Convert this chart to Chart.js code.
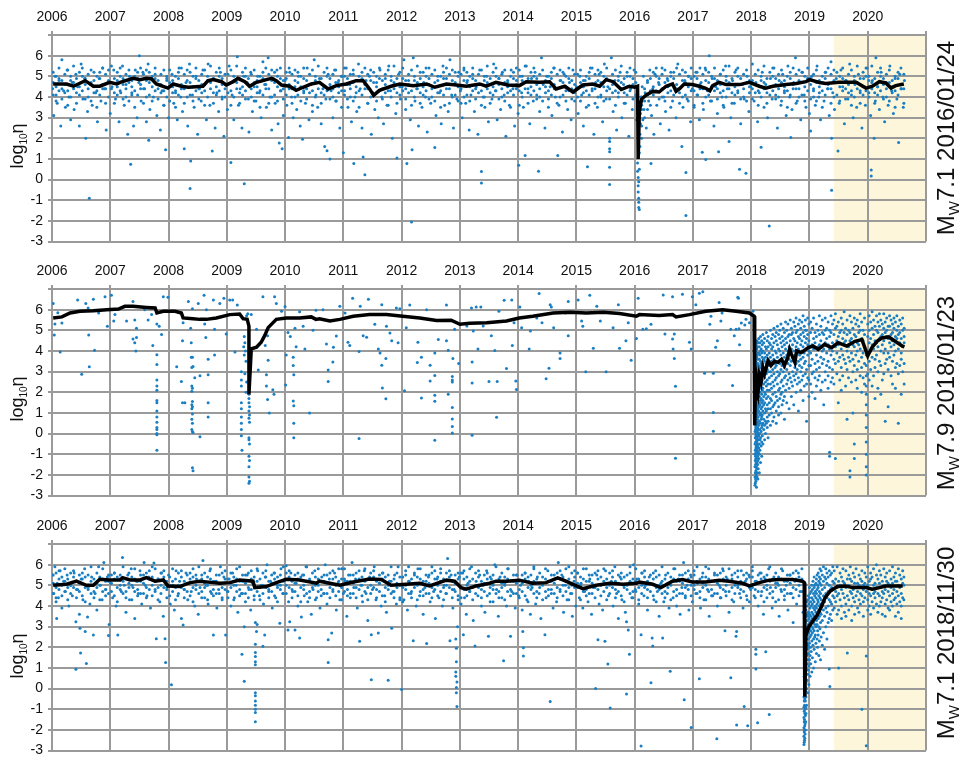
<!DOCTYPE html>
<html>
<head>
<meta charset="utf-8">
<script src="https://cdn.jsdelivr.net/npm/chart.js@4.4.0/dist/chart.umd.min.js"></script>
<style>
  body { margin: 0; background: #fff; width: 961px; height: 761px; overflow: hidden; position: relative;
         font-family: 'Liberation Sans', Arial, sans-serif; color: #111; }
  canvas { position: absolute; left: 0; }
  .ytitle { position: absolute; transform: translate(-50%, -50%) rotate(-90deg); font-size: 18px; white-space: nowrap; }
  .quake { position: absolute; transform: translate(-50%, -50%) rotate(-90deg); font-size: 24px; white-space: nowrap; }
  .ytitle sub { font-size: 10px; }
  .quake sub { font-size: 15px; }
</style>
</head>
<body>
<canvas id="panel0" width="961" height="255" style="top:0px"></canvas>
<canvas id="panel1" width="961" height="255" style="top:254px"></canvas>
<canvas id="panel2" width="961" height="255" style="top:509px"></canvas>

<div class="ytitle" style="left:18px;top:146px">log<sub>10</sub>η</div>
<div class="ytitle" style="left:18px;top:399px">log<sub>10</sub>η</div>
<div class="ytitle" style="left:18px;top:656px">log<sub>10</sub>η</div>
<div class="quake" id="q0" style="left:947px;top:138px"></div>
<div class="quake" id="q1" style="left:947px;top:393px"></div>
<div class="quake" id="q2" style="left:947px;top:643px"></div>

<script>
// --- axes ---
const yearTicks = [2006, 2007, 2008, 2009, 2010, 2011, 2012, 2013, 2014, 2015, 2016, 2017, 2018, 2019, 2020, 2021];
const etaTicks = [-3, -2, -1, 0, 1, 2, 3, 4, 5, 6, 7];
const shadeStart = 2019.42;

// --- quakes (one per panel) ---
const quakeMags = ['7.1', '7.9', '7.1'];
const quakeDates = ['2016/01/24', '2018/01/23', '2018/11/30'];

// --- panel 1 : Mw7.1 2016/01/24 ---
const lineA = [
  [2006.02,4.63],[2006.25,4.63],[2006.37,4.52],[2006.57,4.79],[2006.71,4.52],[2006.82,4.52],[2006.99,4.71],
  [2007.11,4.63],[2007.17,4.71],[2007.39,4.9],[2007.51,4.84],[2007.62,4.9],[2007.71,4.87],[2007.79,4.63],
  [2007.99,4.43],[2008.08,4.63],[2008.22,4.52],[2008.34,4.47],[2008.59,4.52],[2008.68,4.79],[2008.77,4.84],
  [2008.91,4.74],[2008.99,4.58],[2009.11,4.74],[2009.19,4.9],[2009.31,4.74],[2009.39,4.52],[2009.51,4.71],
  [2009.68,4.84],[2009.77,4.9],[2009.85,4.79],[2009.94,4.58],[2010.08,4.52],[2010.19,4.32],[2010.31,4.47],
  [2010.45,4.63],[2010.59,4.71],[2010.74,4.39],[2010.88,4.55],[2011.05,4.63],[2011.22,4.79],[2011.34,4.79],
  [2011.45,4.39],[2011.52,4.08],[2011.62,4.32],[2011.82,4.52],[2011.97,4.63],[2012.2,4.55],[2012.43,4.63],
  [2012.57,4.47],[2012.77,4.63],[2012.94,4.58],[2013.11,4.52],[2013.34,4.63],[2013.45,4.52],[2013.62,4.71],
  [2013.82,4.58],[2014.02,4.55],[2014.14,4.74],[2014.37,4.71],[2014.54,4.74],[2014.65,4.39],[2014.8,4.52],
  [2014.94,4.24],[2015.11,4.58],[2015.28,4.63],[2015.4,4.52],[2015.51,4.84],[2015.63,4.74],[2015.77,4.36],
  [2015.91,4.52],[2016.0,4.47],[2016.05,4.52],[2016.06,1.0],[2016.08,3.3],[2016.12,3.9],[2016.2,4.1],
  [2016.31,4.27],[2016.42,4.24],[2016.54,4.52],[2016.65,4.63],[2016.71,4.27],[2016.77,4.4],[2016.85,4.63],
  [2016.99,4.6],[2017.11,4.52],[2017.22,4.42],[2017.29,4.3],[2017.34,4.55],[2017.45,4.71],[2017.57,4.6],
  [2017.8,4.6],[2017.97,4.71],[2018.14,4.52],[2018.25,4.43],[2018.37,4.52],[2018.6,4.6],[2018.77,4.65],
  [2018.94,4.74],[2019.0,4.84],[2019.17,4.7],[2019.28,4.65],[2019.51,4.71],[2019.8,4.71],[2019.97,4.43],
  [2020.08,4.52],[2020.2,4.74],[2020.31,4.68],[2020.4,4.43],[2020.48,4.55],[2020.62,4.63]
];
const ptsA = [
  [2006.01,4.4],[2006.03,3.1],[2006.05,5.0],[2006.07,4.1],[2006.09,3.7],[2006.12,4.8],[2006.15,2.6],[2006.17,5.8],
  [2006.2,4.3],[2006.23,3.5],[2006.26,5.3],[2006.29,4.0],[2006.32,2.9],[2006.35,4.7],[2006.38,3.4],[2006.41,5.1],
  [2006.44,4.5],[2006.47,2.6],[2006.5,5.6],[2006.53,3.9],[2006.56,4.9],[2006.58,2.0],[2006.61,3.3],[2006.64,-0.9],
  [2006.66,4.6],[2006.69,3.6],[2006.72,5.2],[2006.75,4.2],[2006.78,2.8],[2006.81,4.9],[2006.84,3.8],[2006.87,5.4],
  [2006.9,4.4],[2006.93,2.4],[2006.96,4.7],
  [2007.0,3.2],[2007.03,4.5],[2007.06,5.3],[2007.09,3.9],[2007.12,4.8],[2007.15,2.8],[2007.18,4.2],[2007.21,5.5],
  [2007.24,3.6],[2007.27,4.6],[2007.3,2.2],[2007.33,5.0],[2007.35,0.75],[2007.37,4.1],[2007.4,2.6],[2007.43,5.3],
  [2007.46,3.0],[2007.49,4.7],[2007.5,6.0],[2007.53,3.8],[2007.56,5.2],[2007.59,4.4],[2007.62,2.8],[2007.65,5.6],
  [2007.66,1.9],[2007.68,3.4],[2007.71,4.9],[2007.74,4.0],[2007.77,5.1],[2007.8,3.1],[2007.83,4.6],[2007.86,2.4],
  [2007.89,4.3],[2007.92,3.6],[2007.95,1.45],[2007.97,4.9],
  [2008.0,3.0],[2008.03,4.5],[2008.06,5.1],[2008.09,3.7],[2008.12,4.2],[2008.15,2.9],[2008.18,5.4],[2008.21,4.0],
  [2008.24,3.3],[2008.27,1.5],[2008.3,4.7],[2008.33,2.6],[2008.36,5.6],[2008.37,-0.43],[2008.38,0.9],[2008.41,4.1],
  [2008.44,3.5],[2008.47,5.0],[2008.5,2.2],[2008.53,4.4],[2008.56,3.8],[2008.59,5.3],[2008.62,4.6],[2008.65,2.9],
  [2008.68,5.6],[2008.71,3.6],[2008.75,1.38],[2008.77,4.9],[2008.8,2.5],[2008.83,4.2],[2008.86,3.3],[2008.89,5.2],
  [2008.92,4.0],[2008.95,2.1],[2008.98,4.6],
  [2009.01,3.4],[2009.04,5.5],[2009.07,0.83],[2009.09,4.1],[2009.12,2.9],[2009.15,4.8],[2009.18,5.95],[2009.2,3.6],
  [2009.23,4.4],[2009.26,2.5],[2009.29,5.0],[2009.3,-0.2],[2009.32,3.9],[2009.35,4.7],[2009.38,2.3],[2009.41,5.2],
  [2009.44,3.3],[2009.47,4.5],[2009.5,3.8],[2009.53,5.0],[2009.56,4.2],[2009.59,3.0],[2009.62,5.7],[2009.65,4.6],
  [2009.68,3.5],[2009.71,5.9],[2009.74,4.0],[2009.77,2.4],[2009.8,4.9],[2009.83,3.7],[2009.86,5.3],[2009.88,2.7],
  [2009.9,1.77],[2009.93,4.3],[2009.95,1.49],[2009.97,3.1],
  [2010.0,4.8],[2010.03,3.6],[2010.06,2.04],[2010.08,5.2],[2010.11,4.0],[2010.14,3.0],[2010.17,4.5],[2010.2,3.4],
  [2010.23,5.0],[2010.26,2.6],[2010.3,1.96],[2010.32,4.2],[2010.35,3.7],[2010.38,5.4],[2010.41,2.9],[2010.44,4.6],
  [2010.47,3.3],[2010.5,5.8],[2010.53,4.1],[2010.56,3.5],[2010.59,4.9],[2010.62,2.7],[2010.65,4.4],[2010.68,1.6],
  [2010.7,3.9],[2010.72,1.4],[2010.74,5.1],[2010.77,1.0],[2010.79,4.3],[2010.82,3.0],[2010.85,5.3],[2010.88,3.8],
  [2010.91,4.7],[2010.94,2.5],[2010.97,5.0],
  [2011.0,1.3],[2011.02,4.1],[2011.05,5.4],[2011.08,3.5],[2011.11,4.6],[2011.14,2.8],[2011.17,5.1],[2011.18,0.78],
  [2011.2,4.0],[2011.23,3.3],[2011.26,5.6],[2011.29,4.4],[2011.32,2.5],[2011.34,1.1],[2011.37,0.23],[2011.39,4.8],
  [2011.42,3.7],[2011.45,5.0],[2011.48,2.2],[2011.51,4.2],[2011.54,3.4],[2011.57,4.7],[2011.6,3.0],[2011.63,5.3],
  [2011.66,4.0],[2011.69,2.7],[2011.72,4.9],[2011.75,3.6],[2011.78,5.5],[2011.81,4.3],[2011.84,2.0],[2011.87,4.6],
  [2011.9,3.2],[2011.92,1.05],[2011.95,5.1],[2011.98,3.9],
  [2012.01,4.5],[2012.04,5.8],[2012.07,3.4],[2012.09,0.78],[2012.12,4.8],[2012.15,2.9],[2012.17,-2.05],[2012.18,1.45],
  [2012.2,5.9],[2012.23,3.8],[2012.26,4.4],[2012.29,2.6],[2012.32,5.2],[2012.35,3.5],[2012.38,4.7],[2012.41,4.0],
  [2012.44,2.3],[2012.47,5.4],[2012.5,3.7],[2012.53,4.5],[2012.57,1.55],[2012.59,3.1],[2012.62,5.0],[2012.65,4.2],
  [2012.68,2.7],[2012.71,5.5],[2012.74,3.6],[2012.77,4.9],[2012.8,3.3],[2012.83,5.8],[2012.86,4.1],[2012.89,2.5],
  [2012.92,4.6],[2012.95,3.9],[2012.98,5.2],
  [2013.01,4.3],[2013.04,3.0],[2013.07,5.4],[2013.1,3.7],[2013.13,4.8],[2013.16,2.4],[2013.19,4.1],[2013.22,5.1],
  [2013.25,3.3],[2013.28,4.5],[2013.31,2.2],[2013.34,5.3],[2013.37,0.39],[2013.37,-0.16],[2013.4,4.0],[2013.43,3.5],
  [2013.46,5.0],[2013.49,2.8],[2013.52,4.6],[2013.55,3.9],[2013.58,5.6],[2013.61,4.3],[2013.64,2.9],[2013.67,4.9],
  [2013.7,3.4],[2013.73,5.2],[2013.76,4.1],[2013.79,2.1],[2013.82,4.7],[2013.85,3.6],[2013.88,5.3],[2013.91,4.4],
  [2013.94,2.6],[2013.97,4.8],
  [2014.0,3.2],[2014.01,0.7],[2014.03,5.0],[2014.06,4.2],[2014.09,3.5],[2014.12,1.17],[2014.14,5.5],[2014.17,4.4],
  [2014.2,2.7],[2014.23,4.9],[2014.26,3.8],[2014.29,5.2],[2014.32,4.1],[2014.35,0.4],[2014.37,3.3],[2014.4,5.9],
  [2014.43,4.6],[2014.46,2.5],[2014.49,5.0],[2014.52,3.9],[2014.55,4.5],[2014.58,3.1],[2014.61,5.4],[2014.64,4.0],
  [2014.68,1.17],[2014.7,3.6],[2014.73,4.8],[2014.76,2.3],[2014.79,5.1],[2014.82,4.3],[2014.85,3.4],[2014.88,4.7],
  [2014.91,2.9],[2014.94,5.3],[2014.97,3.8],
  [2015.0,4.5],[2015.03,3.2],[2015.06,5.0],[2015.09,4.1],[2015.12,2.6],[2015.15,4.8],[2015.19,0.62],[2015.21,3.6],
  [2015.24,5.4],[2015.27,4.3],[2015.3,2.2],[2015.33,4.7],[2015.36,3.5],[2015.39,5.1],[2015.42,4.0],[2015.45,2.8],
  [2015.48,5.6],[2015.51,3.9],[2015.54,4.5],[2015.57,2.0],[2015.57,1.85],[2015.57,1.5],[2015.57,1.35],[2015.57,0.6],
  [2015.57,-0.24],[2015.6,5.9],[2015.63,3.3],[2015.66,4.8],[2015.69,2.4],[2015.72,4.2],[2015.75,5.2],[2015.78,3.0],
  [2015.81,4.6],[2015.84,3.7],[2015.87,5.0],[2015.9,2.1],[2015.93,4.4],[2015.96,3.4],[2015.99,5.3],[2016.02,4.0],
  [2016.03,2.9],
  [2016.05,0.8],[2016.05,0.4],[2016.06,0.1],[2016.06,-0.3],[2016.06,-0.6],[2016.07,-0.9],[2016.07,-1.1],[2016.07,-1.35],
  [2016.08,-1.45],[2016.08,1.3],[2016.08,0.5],[2016.07,-0.1],[2016.09,2.2],[2016.09,1.6],[2016.1,2.7],[2016.1,3.2],
  [2016.11,4.0],[2016.12,2.0],[2016.12,3.6],[2016.13,4.5],[2016.14,2.9],[2016.15,5.0],[2016.16,3.4],[2016.18,4.2],
  [2016.2,2.5],[2016.22,4.8],[2016.24,3.8],[2016.26,5.3],[2016.28,0.78],[2016.29,3.1],[2016.31,4.4],[2016.33,2.2],
  [2016.35,5.1],[2016.38,3.6],[2016.41,4.7],[2016.44,2.7],[2016.47,5.4],[2016.5,4.0],[2016.53,3.3],[2016.56,4.9],
  [2016.59,2.4],[2016.62,5.2],[2016.65,3.8],[2016.68,4.5],[2016.71,3.0],[2016.74,5.6],[2016.77,4.2],[2016.81,1.6],
  [2016.83,3.5],[2016.86,4.8],[2016.88,0.35],[2016.88,-1.74],[2016.9,3.9],[2016.93,5.0],[2016.96,2.8],[2016.99,4.4],
  [2017.02,3.6],[2017.05,5.2],[2017.08,4.1],[2017.11,2.9],[2017.14,4.7],[2017.16,1.33],[2017.18,3.4],[2017.21,5.4],
  [2017.22,0.97],[2017.25,4.3],[2017.28,6.0],[2017.3,3.8],[2017.33,4.9],[2017.36,2.6],[2017.39,4.5],[2017.42,3.2],
  [2017.44,1.35],[2017.47,5.1],[2017.5,4.0],[2017.53,3.5],[2017.56,5.5],[2017.59,4.4],[2017.62,1.85],[2017.65,3.0],
  [2017.68,4.8],[2017.71,3.7],[2017.74,5.3],[2017.77,4.2],[2017.8,0.5],[2017.82,2.7],[2017.85,4.6],[2017.88,3.9],
  [2017.91,0.31],[2017.93,5.0],[2017.96,3.3],[2017.99,4.5],
  [2018.02,5.6],[2018.05,3.8],[2018.08,4.7],[2018.11,2.8],[2018.14,4.2],[2018.17,1.57],[2018.19,5.2],[2018.22,3.5],
  [2018.25,4.6],[2018.28,3.0],[2018.31,-2.24],[2018.33,4.9],[2018.36,3.9],[2018.39,5.4],[2018.42,4.1],[2018.45,2.5],
  [2018.48,4.8],[2018.51,3.6],[2018.54,5.1],[2018.57,4.3],[2018.6,3.1],[2018.63,5.5],[2018.66,4.0],[2018.68,2.04],
  [2018.7,3.4],[2018.73,4.7],[2018.76,5.9],[2018.79,3.8],[2018.82,4.4],[2018.85,2.9],[2018.88,5.2],[2018.91,4.1],
  [2018.94,3.5],[2018.97,4.9],
  [2019.0,3.2],[2019.02,2.35],[2019.04,5.0],[2019.07,4.3],[2019.1,3.6],[2019.13,5.5],[2019.16,4.0],[2019.19,2.9],
  [2019.22,4.7],[2019.25,3.8],[2019.28,5.2],[2019.31,4.4],[2019.34,3.1],[2019.37,5.7],[2019.38,-0.51],[2019.38,2.0],
  [2019.4,4.2],[2019.43,3.4],[2019.46,4.9],[2019.49,1.38],[2019.51,3.7],[2019.54,5.3],[2019.57,4.5],[2019.6,2.7],
  [2019.63,4.8],[2019.66,3.9],[2019.69,5.6],[2019.72,4.1],[2019.75,3.0],[2019.78,4.6],[2019.81,3.5],[2019.84,5.1],
  [2019.87,4.3],[2019.9,2.5],[2019.93,4.9],[2019.96,3.6],[2019.99,5.4],
  [2020.02,4.2],[2020.05,3.1],[2020.06,0.47],[2020.06,0.18],[2020.08,4.8],[2020.11,2.0],[2020.13,3.8],[2020.14,5.9],
  [2020.17,4.5],[2020.2,3.4],[2020.23,5.2],[2020.26,4.0],[2020.29,2.8],[2020.32,4.7],[2020.35,3.6],[2020.38,5.5],
  [2020.41,4.3],[2020.44,3.2],[2020.47,4.9],[2020.5,3.9],[2020.53,1.8],[2020.55,5.1],[2020.58,4.4],[2020.61,3.5],
  [2020.63,4.8]
];
// dense core of the cloud: [time, [values...]]
const bandA = [
  [2006.02,[4.1,4.7,5.2]],[2006.07,[3.8,4.5,5.0]],[2006.12,[4.3,4.9,5.4]],[2006.17,[3.9,4.4,4.8]],[2006.22,[4.2,4.6,5.1]],
  [2006.27,[3.6,4.3,5.3]],[2006.32,[4.0,4.8,5.0]],[2006.37,[4.4,4.7,5.5]],[2006.42,[3.7,4.2,4.9]],[2006.47,[4.1,4.5,5.2]],
  [2006.52,[4.3,5.0,5.4]],[2006.57,[3.9,4.6,4.9]],[2006.62,[4.0,4.4,5.1]],[2006.67,[3.8,4.7,5.3]],[2006.72,[4.2,4.5,4.8]],
  [2006.77,[3.5,4.3,5.0]],[2006.82,[4.1,4.9,5.2]],[2006.87,[4.4,4.6,5.4]],[2006.92,[3.7,4.4,5.1]],[2006.97,[4.0,4.8,5.3]],
  [2007.02,[4.4,4.7,5.5]],[2007.07,[3.7,4.2,4.9]],[2007.12,[4.1,4.5,5.2]],[2007.17,[4.3,5.0,5.4]],[2007.22,[3.9,4.6,4.9]],
  [2007.27,[4.0,4.4,5.1]],[2007.32,[3.8,4.7,5.3]],[2007.37,[4.2,4.5,4.8]],[2007.42,[3.5,4.3,5.0]],[2007.47,[4.1,4.9,5.2]],
  [2007.52,[4.4,4.6,5.4]],[2007.57,[3.7,4.4,5.1]],[2007.62,[4.0,4.8,5.3]],[2007.67,[4.1,4.7,5.2]],[2007.72,[3.8,4.5,5.0]],
  [2007.77,[4.3,4.9,5.4]],[2007.82,[3.9,4.4,4.8]],[2007.87,[4.2,4.6,5.1]],[2007.92,[3.6,4.3,5.3]],[2007.97,[4.0,4.8,5.0]],
  [2008.02,[3.8,4.7,5.3]],[2008.07,[4.2,4.5,4.8]],[2008.12,[3.5,4.3,5.0]],[2008.17,[4.1,4.9,5.2]],[2008.22,[4.4,4.6,5.4]],
  [2008.27,[3.7,4.4,5.1]],[2008.32,[4.0,4.8,5.3]],[2008.37,[4.1,4.7,5.2]],[2008.42,[3.8,4.5,5.0]],[2008.47,[4.3,4.9,5.4]],
  [2008.52,[3.9,4.4,4.8]],[2008.57,[4.2,4.6,5.1]],[2008.62,[3.6,4.3,5.3]],[2008.67,[4.0,4.8,5.0]],[2008.72,[4.4,4.7,5.5]],
  [2008.77,[3.7,4.2,4.9]],[2008.82,[4.1,4.5,5.2]],[2008.87,[4.3,5.0,5.4]],[2008.92,[3.9,4.6,4.9]],[2008.97,[4.0,4.4,5.1]],
  [2009.02,[4.2,4.6,5.1]],[2009.07,[3.6,4.3,5.3]],[2009.12,[4.0,4.8,5.0]],[2009.17,[4.4,4.7,5.5]],[2009.22,[3.7,4.2,4.9]],
  [2009.27,[4.1,4.5,5.2]],[2009.32,[4.3,5.0,5.4]],[2009.37,[3.9,4.6,4.9]],[2009.42,[4.0,4.4,5.1]],[2009.47,[3.8,4.7,5.3]],
  [2009.52,[4.2,4.5,4.8]],[2009.57,[3.5,4.3,5.0]],[2009.62,[4.1,4.9,5.2]],[2009.67,[4.4,4.6,5.4]],[2009.72,[3.7,4.4,5.1]],
  [2009.77,[4.0,4.8,5.3]],[2009.82,[4.1,4.7,5.2]],[2009.87,[3.8,4.5,5.0]],[2009.92,[4.3,4.9,5.4]],[2009.97,[3.9,4.4,4.8]],
  [2010.02,[4.1,4.9,5.2]],[2010.07,[4.4,4.6,5.4]],[2010.12,[3.7,4.4,5.1]],[2010.17,[4.0,4.8,5.3]],[2010.22,[4.1,4.7,5.2]],
  [2010.27,[3.8,4.5,5.0]],[2010.32,[4.3,4.9,5.4]],[2010.37,[3.9,4.4,4.8]],[2010.42,[4.2,4.6,5.1]],[2010.47,[3.6,4.3,5.3]],
  [2010.52,[4.0,4.8,5.0]],[2010.57,[4.4,4.7,5.5]],[2010.62,[3.7,4.2,4.9]],[2010.67,[4.1,4.5,5.2]],[2010.72,[4.3,5.0,5.4]],
  [2010.77,[3.9,4.6,4.9]],[2010.82,[4.0,4.4,5.1]],[2010.87,[3.8,4.7,5.3]],[2010.92,[4.2,4.5,4.8]],[2010.97,[3.5,4.3,5.0]],
  [2011.02,[4.3,5.0,5.4]],[2011.07,[3.9,4.6,4.9]],[2011.12,[4.0,4.4,5.1]],[2011.17,[3.8,4.7,5.3]],[2011.22,[4.2,4.5,4.8]],
  [2011.27,[3.5,4.3,5.0]],[2011.32,[4.1,4.9,5.2]],[2011.37,[4.4,4.6,5.4]],[2011.42,[3.7,4.4,5.1]],[2011.47,[4.0,4.8,5.3]],
  [2011.52,[4.1,4.7,5.2]],[2011.57,[3.8,4.5,5.0]],[2011.62,[4.3,4.9,5.4]],[2011.67,[3.9,4.4,4.8]],[2011.72,[4.2,4.6,5.1]],
  [2011.77,[3.6,4.3,5.3]],[2011.82,[4.0,4.8,5.0]],[2011.87,[4.4,4.7,5.5]],[2011.92,[3.7,4.2,4.9]],[2011.97,[4.1,4.5,5.2]],
  [2012.02,[4.3,4.9,5.4]],[2012.07,[3.9,4.4,4.8]],[2012.12,[4.2,4.6,5.1]],[2012.17,[3.6,4.3,5.3]],[2012.22,[4.0,4.8,5.0]],
  [2012.27,[4.4,4.7,5.5]],[2012.32,[3.7,4.2,4.9]],[2012.37,[4.1,4.5,5.2]],[2012.42,[4.3,5.0,5.4]],[2012.47,[3.9,4.6,4.9]],
  [2012.52,[4.0,4.4,5.1]],[2012.57,[3.8,4.7,5.3]],[2012.62,[4.2,4.5,4.8]],[2012.67,[3.5,4.3,5.0]],[2012.72,[4.1,4.9,5.2]],
  [2012.77,[4.4,4.6,5.4]],[2012.82,[3.7,4.4,5.1]],[2012.87,[4.0,4.8,5.3]],[2012.92,[4.1,4.7,5.2]],[2012.97,[3.8,4.5,5.0]],
  [2013.02,[3.7,4.4,5.1]],[2013.07,[4.0,4.8,5.3]],[2013.12,[4.1,4.7,5.2]],[2013.17,[3.8,4.5,5.0]],[2013.22,[4.3,4.9,5.4]],
  [2013.27,[3.9,4.4,4.8]],[2013.32,[4.2,4.6,5.1]],[2013.37,[3.6,4.3,5.3]],[2013.42,[4.0,4.8,5.0]],[2013.47,[4.4,4.7,5.5]],
  [2013.52,[3.7,4.2,4.9]],[2013.57,[4.1,4.5,5.2]],[2013.62,[4.3,5.0,5.4]],[2013.67,[3.9,4.6,4.9]],[2013.72,[4.0,4.4,5.1]],
  [2013.77,[3.8,4.7,5.3]],[2013.82,[4.2,4.5,4.8]],[2013.87,[3.5,4.3,5.0]],[2013.92,[4.1,4.9,5.2]],[2013.97,[4.4,4.6,5.4]],
  [2014.02,[3.6,4.3,5.3]],[2014.07,[4.0,4.8,5.0]],[2014.12,[4.4,4.7,5.5]],[2014.17,[3.7,4.2,4.9]],[2014.22,[4.1,4.5,5.2]],
  [2014.27,[4.3,5.0,5.4]],[2014.32,[3.9,4.6,4.9]],[2014.37,[4.0,4.4,5.1]],[2014.42,[3.8,4.7,5.3]],[2014.47,[4.2,4.5,4.8]],
  [2014.52,[3.5,4.3,5.0]],[2014.57,[4.1,4.9,5.2]],[2014.62,[4.4,4.6,5.4]],[2014.67,[3.7,4.4,5.1]],[2014.72,[4.0,4.8,5.3]],
  [2014.77,[4.1,4.7,5.2]],[2014.82,[3.8,4.5,5.0]],[2014.87,[4.3,4.9,5.4]],[2014.92,[3.9,4.4,4.8]],[2014.97,[4.2,4.6,5.1]],
  [2015.02,[4.0,4.4,5.1]],[2015.07,[3.8,4.7,5.3]],[2015.12,[4.2,4.5,4.8]],[2015.17,[3.5,4.3,5.0]],[2015.22,[4.1,4.9,5.2]],
  [2015.27,[4.4,4.6,5.4]],[2015.32,[3.7,4.4,5.1]],[2015.37,[4.0,4.8,5.3]],[2015.42,[4.1,4.7,5.2]],[2015.47,[3.8,4.5,5.0]],
  [2015.52,[4.3,4.9,5.4]],[2015.57,[3.9,4.4,4.8]],[2015.62,[4.2,4.6,5.1]],[2015.67,[3.6,4.3,5.3]],[2015.72,[4.0,4.8,5.0]],
  [2015.77,[4.4,4.7,5.5]],[2015.82,[3.7,4.2,4.9]],[2015.87,[4.1,4.5,5.2]],[2015.92,[4.3,5.0,5.4]],[2015.97,[3.9,4.6,4.9]],
  [2016.02,[4.1,4.7,5.2]],[2016.07,[1.2,2.3,3.1]],[2016.12,[2.6,3.4,4.0]],[2016.17,[3.0,3.8,4.4]],[2016.22,[3.4,4.1,4.7]],
  [2016.27,[3.6,4.3,4.9]],[2016.32,[4.1,4.5,5.2]],[2016.37,[4.3,5.0,5.4]],[2016.42,[3.9,4.6,4.9]],[2016.47,[4.0,4.4,5.1]],
  [2016.52,[3.8,4.7,5.3]],[2016.57,[4.2,4.5,4.8]],[2016.62,[3.5,4.3,5.0]],[2016.67,[4.1,4.9,5.2]],[2016.72,[4.4,4.6,5.4]],
  [2016.77,[3.7,4.4,5.1]],[2016.82,[4.0,4.8,5.3]],[2016.87,[4.1,4.7,5.2]],[2016.92,[3.8,4.5,5.0]],[2016.97,[4.3,4.9,5.4]],
  [2017.02,[3.5,4.3,5.0]],[2017.07,[4.1,4.9,5.2]],[2017.12,[4.4,4.6,5.4]],[2017.17,[3.7,4.4,5.1]],[2017.22,[4.0,4.8,5.3]],
  [2017.27,[4.1,4.7,5.2]],[2017.32,[3.8,4.5,5.0]],[2017.37,[4.3,4.9,5.4]],[2017.42,[3.9,4.4,4.8]],[2017.47,[4.2,4.6,5.1]],
  [2017.52,[3.6,4.3,5.3]],[2017.57,[4.0,4.8,5.0]],[2017.62,[4.4,4.7,5.5]],[2017.67,[3.7,4.2,4.9]],[2017.72,[4.1,4.5,5.2]],
  [2017.77,[4.3,5.0,5.4]],[2017.82,[3.9,4.6,4.9]],[2017.87,[4.0,4.4,5.1]],[2017.92,[3.8,4.7,5.3]],[2017.97,[4.2,4.5,4.8]],
  [2018.02,[3.9,4.4,4.8]],[2018.07,[4.2,4.6,5.1]],[2018.12,[3.6,4.3,5.3]],[2018.17,[4.0,4.8,5.0]],[2018.22,[4.4,4.7,5.5]],
  [2018.27,[3.7,4.2,4.9]],[2018.32,[4.1,4.5,5.2]],[2018.37,[4.3,5.0,5.4]],[2018.42,[3.9,4.6,4.9]],[2018.47,[4.0,4.4,5.1]],
  [2018.52,[3.8,4.7,5.3]],[2018.57,[4.2,4.5,4.8]],[2018.62,[3.5,4.3,5.0]],[2018.67,[4.1,4.9,5.2]],[2018.72,[4.4,4.6,5.4]],
  [2018.77,[3.7,4.4,5.1]],[2018.82,[4.0,4.8,5.3]],[2018.87,[4.1,4.7,5.2]],[2018.92,[3.8,4.5,5.0]],[2018.97,[4.3,4.9,5.4]],
  [2019.02,[3.9,4.6,4.9]],[2019.07,[4.0,4.4,5.1]],[2019.12,[3.8,4.7,5.3]],[2019.17,[4.2,4.5,4.8]],[2019.22,[3.5,4.3,5.0]],
  [2019.27,[4.1,4.9,5.2]],[2019.32,[4.4,4.6,5.4]],[2019.37,[3.7,4.4,5.1]],[2019.42,[4.0,4.8,5.3]],[2019.47,[4.1,4.7,5.2]],
  [2019.52,[3.8,4.5,5.0]],[2019.57,[4.3,4.9,5.4]],[2019.62,[3.9,4.4,4.8]],[2019.67,[4.2,4.6,5.1]],[2019.72,[3.6,4.3,5.3]],
  [2019.77,[4.0,4.8,5.0]],[2019.82,[4.4,4.7,5.5]],[2019.87,[3.7,4.2,4.9]],[2019.92,[4.1,4.5,5.2]],[2019.97,[4.3,5.0,5.4]],
  [2020.02,[4.0,4.8,5.0]],[2020.07,[4.4,4.7,5.5]],[2020.12,[3.7,4.2,4.9]],[2020.17,[4.1,4.5,5.2]],[2020.22,[4.3,5.0,5.4]],
  [2020.27,[3.9,4.6,4.9]],[2020.32,[4.0,4.4,5.1]],[2020.37,[3.8,4.7,5.3]],[2020.42,[4.2,4.5,4.8]],[2020.47,[3.5,4.3,5.0]],
  [2020.52,[4.1,4.9,5.2]],[2020.57,[4.4,4.6,5.4]],[2020.62,[3.7,4.4,5.1]]
];

// --- panel 2 : Mw7.9 2018/01/23 ---
const lineB = [
  [2006.02,5.6],[2006.17,5.65],[2006.31,5.84],[2006.48,5.92],[2006.71,5.95],[2006.94,6.0],[2007.14,6.03],
  [2007.25,6.16],[2007.39,6.16],[2007.62,6.11],[2007.77,6.08],[2007.8,5.84],[2007.91,5.92],[2008.11,5.92],
  [2008.22,5.84],[2008.25,5.6],[2008.42,5.56],[2008.54,5.53],[2008.65,5.53],[2008.82,5.6],[2009.05,5.76],
  [2009.22,5.79],[2009.28,5.56],[2009.35,5.53],[2009.38,5.2],[2009.38,1.9],[2009.42,4.1],[2009.51,4.18],
  [2009.59,4.42],[2009.65,4.74],[2009.71,5.13],[2009.85,5.53],[2010.02,5.6],[2010.25,5.6],[2010.45,5.65],
  [2010.53,5.53],[2010.59,5.56],[2010.77,5.45],[2010.94,5.53],[2011.17,5.68],[2011.45,5.76],[2011.74,5.76],
  [2012.02,5.68],[2012.31,5.6],[2012.6,5.48],[2012.85,5.49],[2013.0,5.29],[2013.17,5.34],[2013.46,5.37],
  [2013.8,5.45],[2014.02,5.6],[2014.25,5.68],[2014.6,5.84],[2014.89,5.87],[2015.17,5.84],[2015.46,5.87],
  [2015.74,5.81],[2016.03,5.68],[2016.08,5.76],[2016.42,5.72],[2016.65,5.76],[2016.71,5.65],[2016.94,5.76],
  [2017.22,5.92],[2017.51,6.0],[2017.74,5.92],[2017.97,5.84],[2018.05,5.68],[2018.06,0.4],[2018.07,2.04],
  [2018.08,1.6],[2018.1,2.5],[2018.12,2.1],[2018.14,2.82],[2018.17,2.5],[2018.2,3.2],[2018.23,2.9],
  [2018.29,3.53],[2018.34,3.3],[2018.4,3.5],[2018.46,3.45],[2018.52,3.6],[2018.57,3.3],[2018.63,3.7],
  [2018.66,4.08],[2018.69,3.85],[2018.75,3.45],[2018.78,4.0],[2018.86,3.92],[2018.98,4.16],[2019.06,4.24],
  [2019.15,4.08],[2019.26,4.32],[2019.38,4.16],[2019.49,4.4],[2019.64,4.24],[2019.78,4.47],[2019.9,4.55],
  [2019.95,4.16],[2020.0,3.77],[2020.07,4.16],[2020.16,4.47],[2020.24,4.63],[2020.36,4.68],[2020.47,4.47],
  [2020.59,4.24],[2020.63,4.2]
];
const ptsB = [
  [2006.02,6.3],[2006.04,4.77],[2006.05,5.3],[2006.1,5.85],[2006.17,5.35],[2006.14,3.95],[2006.44,6.47],[2006.58,6.3],
  [2006.62,6.08],[2006.63,4.77],[2006.64,3.24],[2006.51,2.87],[2006.71,6.5],[2006.73,4.03],[2006.8,5.84],[2006.91,6.63],
  [2006.95,5.2],[2007.02,6.7],[2007.08,5.76],[2007.06,5.45],[2007.28,5.45],[2007.39,6.4],[2007.39,4.58],[2007.42,5.5],
  [2007.42,4.4],[2007.44,4.0],[2007.45,5.1],[2007.45,4.65],[2007.59,6.0],[2007.65,5.5],[2007.71,5.76],[2007.73,4.26],
  [2007.8,5.3],[2007.8,3.82],[2007.8,3.35],[2007.8,2.6],[2007.8,2.3],[2007.8,2.1],[2007.8,1.6],[2007.8,1.5],
  [2007.8,1.1],[2007.8,0.8],[2007.8,0.55],[2007.8,0.3],[2007.8,0.2],[2007.8,0.0],[2007.8,-0.05],[2007.8,-0.8],
  [2007.84,5.2],[2007.88,4.8],[2007.91,6.63],[2007.99,6.6],
  [2008.14,3.24],[2008.22,2.52],[2008.24,4.5],[2008.24,1.5],[2008.28,1.5],[2008.25,5.37],[2008.34,6.4],
  [2008.39,3.7],[2008.41,3.7],[2008.4,3.2],[2008.42,3.25],[2008.4,2.3],[2008.41,2.2],[2008.4,2.05],[2008.41,1.55],
  [2008.4,1.4],[2008.41,1.3],[2008.4,1.2],[2008.41,0.95],[2008.4,0.7],[2008.41,0.5],[2008.4,0.2],[2008.41,0.1],
  [2008.42,0.05],[2008.41,-1.65],[2008.42,-1.8],[2008.38,5.1],[2008.39,4.4],[2008.45,2.7],
  [2008.41,6.05],[2008.51,6.3],[2008.54,2.8],[2008.54,-0.15],[2008.61,6.7],[2008.62,5.3],[2008.64,4.65],[2008.65,6.0],
  [2008.68,2.85],[2008.68,1.5],[2008.68,0.8],[2008.68,3.6],[2008.77,6.47],[2008.79,5.05],[2008.79,3.8],[2008.88,6.3],
  [2008.95,6.55],[2008.99,4.82],[2009.05,6.47],[2009.1,6.47],[2009.14,3.95],[2009.18,6.23],
  [2009.25,3.0],[2009.25,2.6],[2009.25,2.3],[2009.25,1.5],[2009.25,1.2],[2009.25,0.8],[2009.25,0.5],[2009.25,0.2],
  [2009.25,-0.1],[2009.26,-0.8],
  [2009.3,4.7],[2009.31,4.4],[2009.29,4.2],[2009.32,4.0],[2009.3,3.8],[2009.33,3.5],[2009.31,2.9],[2009.34,2.5],
  [2009.33,2.0],
  [2009.38,1.9],[2009.38,1.7],[2009.38,1.5],[2009.39,1.3],[2009.38,1.1],[2009.39,0.9],[2009.38,0.75],[2009.39,0.55],
  [2009.38,-0.2],[2009.38,-0.3],[2009.39,-0.5],[2009.38,-1.1],[2009.39,-1.3],[2009.38,-1.6],[2009.38,-2.1],[2009.39,-2.3],
  [2009.38,-2.4],[2009.36,5.8],[2009.34,5.7],
  [2009.42,5.76],[2009.51,5.05],[2009.54,3.08],[2009.62,6.63],[2009.66,4.26],[2009.68,2.85],[2009.68,2.3],[2009.7,4.74],
  [2009.71,3.55],[2009.73,1.0],[2009.7,1.65],[2009.79,2.12],[2009.81,1.9],[2009.82,6.63],[2009.85,6.3],[2009.94,5.92],
  [2010.0,6.15],[2010.01,2.35],[2010.02,3.8],[2010.05,4.9],[2010.09,4.7],[2010.14,3.7],[2010.14,3.3],[2010.15,2.85],
  [2010.14,1.58],[2010.15,1.35],[2010.15,0.5],[2010.15,-0.2],[2010.17,5.1],[2010.19,4.2],[2010.25,5.9],[2010.31,5.2],
  [2010.34,4.1],[2010.42,1.0],[2010.48,5.0],[2010.53,5.97],
  [2010.65,6.0],[2010.71,4.34],[2010.74,3.08],[2010.74,2.52],[2010.82,3.47],[2010.83,4.18],[2010.88,4.73],[2010.94,6.16],
  [2011.03,5.84],[2011.08,4.42],[2011.11,4.26],[2011.16,6.55],[2011.27,-0.24],[2011.27,3.98],[2011.29,6.16],[2011.34,4.74],
  [2011.4,4.66],[2011.43,6.5],[2011.54,5.29],[2011.6,4.1],[2011.63,3.9],[2011.66,3.31],[2011.66,6.24],[2011.67,2.21],
  [2011.73,1.69],[2011.73,3.63],[2011.74,5.2],[2011.8,4.87],[2011.83,4.5],[2011.91,6.08],[2011.94,4.4],[2011.97,6.05],
  [2012.05,2.08],[2012.08,5.13],[2012.14,6.22],[2012.27,3.44],[2012.28,4.42],[2012.34,3.7],[2012.34,1.73],[2012.43,6.0],
  [2012.46,5.53],[2012.49,3.31],[2012.49,2.55],[2012.57,3.9],[2012.57,2.81],[2012.57,1.86],[2012.57,1.57],[2012.57,-0.32],
  [2012.63,4.55],[2012.77,6.22],[2012.77,4.5],[2012.8,4.03],[2012.8,1.9],[2012.87,2.76],[2012.87,2.6],[2012.87,2.5],
  [2012.87,1.26],[2012.87,0.71],[2012.87,0.35],[2012.87,0.03],[2012.88,3.63],[2012.91,5.05],[2012.98,3.39],
  [2013.12,5.21],[2013.2,6.08],[2013.21,2.45],[2013.21,-0.08],[2013.21,3.47],[2013.23,4.97],[2013.28,6.13],[2013.31,4.1],
  [2013.36,6.13],[2013.4,5.21],[2013.5,2.52],[2013.54,4.74],[2013.6,4.02],[2013.63,0.79],[2013.64,2.52],[2013.67,5.92],
  [2013.76,6.45],[2013.8,3.15],[2013.89,6.47],[2013.9,4.26],[2013.93,5.37],[2013.96,2.55],[2013.97,2.13],
  [2014.03,6.13],[2014.06,5.13],[2014.19,4.1],[2014.21,4.97],[2014.32,5.6],[2014.36,6.78],[2014.41,5.37],[2014.48,2.65],
  [2014.53,3.17],[2014.55,6.24],[2014.57,6.13],[2014.61,5.13],[2014.72,3.63],[2014.72,3.9],[2014.81,5.84],[2014.86,6.4],
  [2014.86,4.74],[2015.03,6.47],[2015.09,5.45],[2015.11,5.2],[2015.16,3.0],[2015.23,6.7],[2015.29,4.13],[2015.35,6.16],
  [2015.41,5.45],[2015.51,3.0],[2015.63,5.13],[2015.72,6.24],[2015.74,4.13],[2015.85,4.5],[2015.89,5.37],[2015.94,3.55],
  [2016.03,4.6],[2016.06,6.55],
  [2016.14,5.05],[2016.2,5.08],[2016.28,5.29],[2016.49,6.71],[2016.52,4.82],[2016.65,6.63],[2016.65,4.58],[2016.66,4.1],
  [2016.68,4.82],[2016.68,3.63],[2016.7,2.29],[2016.7,-1.19],[2016.82,6.74],[2016.94,4.42],[2016.97,4.1],[2016.99,6.63],
  [2017.05,6.24],[2017.11,6.79],[2017.17,6.87],[2017.2,2.92],[2017.29,5.29],[2017.31,5.68],[2017.35,2.92],[2017.35,1.02],
  [2017.35,0.12],[2017.39,4.18],[2017.42,4.5],[2017.45,6.35],[2017.48,5.45],[2017.5,5.84],[2017.62,3.31],[2017.65,5.05],
  [2017.68,2.33],[2017.71,4.74],[2017.74,5.05],[2017.77,6.6],[2017.78,6.55],[2017.79,5.08],[2017.8,4.3],[2017.83,5.35],
  [2017.89,5.26],[2017.91,5.53],[2017.97,5.37],[2018.03,5.92],[2018.05,5.21]
];
// dense swarm after the 2018/01/23 event: [time, [values...]]
const cloudB = [
  [2018.065,[4.2,3.6,3.1,2.5,1.8,1.3,0.6,0.1,-0.5,-1.0,-1.6,-2.1,-2.5]],
  [2018.07,[3.9,3.3,2.8,2.2,1.6,0.9,0.4,-0.2,-0.8,-1.3,-1.9,-2.4]],
  [2018.075,[4.4,3.8,3.0,2.4,2.0,1.1,0.7,0.2,-0.4,-1.1,-1.5,-2.2]],
  [2018.08,[4.0,3.5,2.7,2.1,1.4,1.0,0.3,-0.1,-0.7,-1.2,-1.8,-2.3]],
  [2018.085,[4.3,3.4,2.9,2.3,1.7,1.2,0.5,0.0,-0.6,-0.9,-1.4,-2.0]],
  [2018.09,[3.7,3.2,2.6,1.9,1.5,0.8,0.2,-0.3,-0.9,-1.6,-2.6]],
  [2018.095,[4.1,3.7,3.1,2.4,1.8,1.1,0.6,-0.1,-0.5,-1.2,-1.7]],
  [2018.1,[4.5,3.3,2.8,2.2,1.3,0.9,0.4,-0.4,-0.8,-1.4,-2.1]],
  [2018.105,[3.8,3.0,2.5,1.9,1.6,0.7,0.1,-0.2,-1.0,-1.9]],
  [2018.11,[4.2,3.6,2.7,2.3,1.4,1.0,0.3,-0.6,-1.1,-1.5]],
  [2018.115,[3.9,3.4,2.9,2.0,1.7,1.2,0.5,0.0,-0.7,-1.3,-2.2]],
  [2018.12,[4.4,3.1,2.6,2.1,1.5,0.8,0.2,-0.3,-0.9,-1.7]],
  [2018.13,[4.6,3.9,3.3,2.6,2.2,1.5,1.1,0.4,-0.1,-0.7,-1.2]],
  [2018.14,[4.2,3.6,3.0,2.4,1.8,1.3,0.6,0.0,-0.5,-1.0,-1.9]],
  [2018.15,[4.4,3.8,3.2,2.7,2.0,1.4,0.9,0.2,-0.3,-0.8]],
  [2018.16,[4.7,4.0,3.5,2.9,2.3,1.6,1.0,0.5,-0.2,-1.4]],
  [2018.17,[4.1,3.4,2.8,2.2,1.7,1.2,0.7,0.1,-0.6]],
  [2018.18,[4.5,3.9,3.3,2.5,1.9,1.5,0.8,0.3,-0.4,-1.1]],
  [2018.19,[4.3,3.7,3.1,2.6,2.1,1.3,0.9,0.4,-0.1]],
  [2018.2,[4.8,4.0,3.4,2.8,2.2,1.6,1.1,0.5,-0.5]],
  [2018.215,[4.4,3.6,3.0,2.4,1.8,1.4,0.7,0.2]],
  [2018.23,[4.6,3.9,3.5,2.7,2.0,1.5,1.0,0.4,-0.3]],
  [2018.245,[4.2,3.7,3.2,2.5,1.9,1.2,0.6,0.0]],
  [2018.26,[4.9,4.1,3.4,2.9,2.3,1.7,1.1,0.5]],
  [2018.275,[4.5,3.8,3.1,2.6,2.1,1.4,0.8,0.3]],
  [2018.29,[4.7,4.2,3.6,3.0,2.4,1.8,1.2,0.6,-0.2]],
  [2018.31,[4.4,3.9,3.3,2.7,2.1,1.5,0.9]],
  [2018.33,[5.0,4.3,3.7,3.0,2.4,1.7,1.2,0.4]],
  [2018.35,[4.6,4.1,3.5,2.8,2.2,1.6,1.0]],
  [2018.37,[4.8,4.2,3.8,3.1,2.5,1.9,1.3,0.6]],
  [2018.39,[5.1,4.4,3.6,2.9,2.3,1.4,0.8]],
  [2018.41,[4.7,4.0,3.4,3.2,2.6,2.0,1.5]],
  [2018.43,[4.9,4.5,3.9,3.3,2.7,1.8,1.1,0.5]],
  [2018.45,[5.2,4.3,3.7,3.0,2.4,1.6]],
  [2018.47,[4.8,4.1,3.5,2.8,2.1,1.3,0.9]],
  [2018.49,[5.0,4.6,4.0,3.4,2.9,2.2,1.7]],
  [2018.51,[5.3,4.4,3.8,3.1,2.5,1.9,1.0]],
  [2018.53,[4.7,4.2,3.6,3.3,2.6,2.0,1.4]],
  [2018.55,[5.1,4.5,3.9,3.0,2.3,1.6]],
  [2018.57,[4.9,4.3,3.7,3.2,2.7,1.8,0.7]],
  [2018.59,[5.4,4.6,4.1,3.5,2.8,2.1]],
  [2018.61,[5.0,4.4,3.8,3.1,2.4,1.5]],
  [2018.63,[5.3,4.7,4.0,3.4,2.6]],
  [2018.65,[4.8,4.2,3.6,2.9,2.2,1.2]],
  [2018.67,[5.5,4.5,3.9,3.3,2.7]],
  [2018.69,[5.1,4.8,4.1,3.5,2.5,1.8]],
  [2018.71,[4.9,4.3,3.7,3.0,2.3]],
  [2018.73,[5.4,4.6,4.0,3.6,2.8,1.4]],
  [2018.75,[5.2,4.5,3.8,3.2,2.6]],
  [2018.77,[5.6,4.9,4.2,3.4,2.9,2.0]],
  [2018.79,[5.0,4.4,3.9,3.1,2.4]],
  [2018.81,[5.3,4.7,4.1,3.5,2.7,1.1]],
  [2018.83,[5.5,4.6,3.8,3.3,2.5]],
  [2018.85,[5.1,4.8,4.3,3.6,3.0,2.1]],
  [2018.87,[5.4,4.5,4.0,3.2,2.6]],
  [2018.89,[5.7,4.9,4.2,3.7,2.8,1.6]],
  [2018.91,[5.2,4.7,3.9,3.4,2.3]],
  [2018.93,[5.5,5.0,4.4,3.5,2.9]],
  [2018.95,[5.0,4.6,4.1,3.1,2.4,0.6]],
  [2018.97,[5.6,4.8,4.3,3.8,2.7]],
  [2018.99,[5.3,4.5,4.0,3.3,2.6,1.8]],
  [2019.02,[5.4,4.9,3.9,3.3,2.4]],[2019.045,[5.1,4.3,3.6,2.9,2.0]],[2019.07,[5.6,4.6,4.1,3.0]],
  [2019.095,[4.9,4.4,3.4,2.7,1.7]],[2019.12,[5.3,4.7,3.8,3.1,2.3]],[2019.145,[5.0,4.2,3.5,2.6]],
  [2019.17,[5.7,4.8,4.3,3.2,2.8]],[2019.195,[5.2,4.5,3.7,2.1]],[2019.22,[5.5,4.9,4.0,3.4,2.5]],
  [2019.245,[4.8,4.1,3.6,1.4]],[2019.27,[5.6,5.0,4.4,3.0,2.6]],[2019.295,[5.1,4.6,3.9,3.3]],
  [2019.32,[5.4,4.3,3.5,2.8,2.2]],[2019.345,[5.0,4.7,4.1,3.2,-0.9,-1.1]],[2019.37,[5.7,4.9,3.8,2.5]],
  [2019.395,[5.3,4.4,4.0,3.1,2.7]],[2019.42,[5.5,4.8,3.6,2.4]],[2019.445,[5.8,5.1,4.2,3.4,-1.2]],
  [2019.47,[5.2,4.5,3.9,2.9]],[2019.495,[5.4,4.7,4.3,3.5,1.5]],[2019.52,[4.9,4.4,3.7,2.6]],
  [2019.545,[5.6,5.0,4.1,3.2,2.1]],[2019.57,[5.3,4.6,3.8,2.8]],[2019.595,[5.9,4.9,4.4,3.6]],
  [2019.62,[5.1,4.5,3.4,2.3]],[2019.645,[5.5,4.8,4.0,3.1,0.7]],[2019.67,[5.0,4.2,3.7,2.7]],
  [2019.695,[5.7,4.9,4.5,3.5,-1.8,-2.1]],[2019.72,[5.4,4.6,3.9,2.5]],[2019.745,[5.1,4.3,3.6,3.0,1.0]],
  [2019.77,[5.6,4.8,4.2,3.3,-0.5,-1.2]],[2019.795,[5.3,4.7,3.8,2.6]],[2019.82,[5.5,4.4,4.0,3.1,2.2]],
  [2019.845,[5.2,4.9,4.3,3.5]],[2019.87,[5.8,5.0,4.1,2.8]],[2019.895,[5.4,4.6,3.7,3.2,2.0]],
  [2019.92,[5.0,4.5,3.9,2.7]],[2019.945,[5.6,4.8,4.2,3.4,2.4]],
  [2019.975,[3.8,3.3,2.8,2.3,1.9,1.4,0.9,0.3,-0.4,-1.0,-1.6,-2.0]],
  [2020.0,[5.3,4.7,3.8,2.9]],[2020.025,[5.7,5.0,4.4,3.5,2.6]],[2020.05,[5.4,4.6,4.0,3.1]],
  [2020.075,[5.9,5.1,4.3,3.7,2.3]],[2020.1,[5.5,4.8,4.1,2.8]],[2020.125,[5.2,4.5,3.6,3.2,1.7]],
  [2020.15,[5.7,5.0,4.4,3.8]],[2020.175,[5.4,4.9,4.2,3.0,2.2]],[2020.2,[5.8,5.2,4.6,3.5]],
  [2020.225,[5.5,4.7,4.0,3.3,1.9]],[2020.25,[5.3,4.8,4.3,2.6]],[2020.275,[5.8,5.1,4.5,3.9,2.9]],
  [2020.3,[5.4,4.9,4.1,3.4,0.6]],[2020.325,[5.6,5.0,4.7,3.6]],[2020.35,[5.2,4.6,3.9,3.1,1.3]],
  [2020.375,[5.7,5.2,4.4,3.7]],[2020.4,[5.5,4.8,4.2,2.8]],[2020.425,[5.3,4.9,4.5,3.5,2.4]],
  [2020.45,[5.6,5.1,4.3,3.8]],[2020.475,[5.4,4.7,4.0,3.2,2.2]],[2020.5,[5.7,5.0,4.6,3.4]],
  [2020.525,[5.2,4.8,4.1,2.9,0.5]],[2020.55,[5.5,4.9,4.4,3.3]],[2020.575,[5.3,4.6,3.9,3.6,1.9]],
  [2020.6,[5.6,5.0,4.2,3.0]],[2020.625,[5.1,4.7,4.4,3.4,2.4]]
];

// --- panel 3 : Mw7.1 2018/11/30 ---
const lineC = [
  [2006.02,5.0],[2006.25,5.05],[2006.42,5.2],[2006.59,5.0],[2006.71,5.0],[2006.82,5.29],[2006.99,5.26],
  [2007.17,5.26],[2007.21,5.37],[2007.34,5.26],[2007.51,5.26],[2007.62,5.37],[2007.77,5.2],[2007.91,5.26],
  [2007.99,4.97],[2008.19,4.94],[2008.37,5.13],[2008.54,5.2],[2008.77,5.13],[2008.88,5.1],[2009.05,5.13],
  [2009.22,5.26],[2009.45,5.2],[2009.48,4.89],[2009.68,4.94],[2009.85,5.13],[2010.02,5.29],[2010.25,5.26],
  [2010.54,5.1],[2010.59,5.2],[2010.77,5.1],[2010.94,5.0],[2011.17,5.16],[2011.45,5.31],[2011.65,5.28],
  [2011.82,5.0],[2012.08,5.05],[2012.31,5.1],[2012.48,4.97],[2012.77,5.25],[2012.91,5.2],[2013.02,4.89],
  [2013.11,4.81],[2013.28,4.97],[2013.51,5.1],[2013.62,5.2],[2013.8,5.2],[2014.02,5.25],[2014.25,5.1],
  [2014.48,5.13],[2014.68,5.36],[2014.82,5.2],[2015.0,4.97],[2015.11,4.84],[2015.34,5.0],[2015.57,5.1],
  [2015.8,5.05],[2016.03,5.1],[2016.08,5.16],[2016.31,5.05],[2016.45,4.89],[2016.65,5.2],[2016.82,5.28],
  [2016.99,5.16],[2017.22,5.16],[2017.45,5.25],[2017.62,5.2],[2017.85,5.1],[2017.97,4.97],[2018.14,5.13],
  [2018.31,5.25],[2018.48,5.28],[2018.71,5.28],[2018.88,5.2],[2018.91,5.13],[2018.92,-0.39],[2018.94,2.6],
  [2018.99,3.0],[2019.05,3.24],[2019.13,3.55],[2019.2,3.94],[2019.27,4.42],[2019.36,4.73],[2019.48,4.94],
  [2019.62,4.97],[2019.74,4.89],[2019.97,4.89],[2020.08,4.81],[2020.2,4.89],[2020.31,4.97],[2020.6,4.97]
];
const ptsC = [
  [2006.01,5.5],[2006.03,4.6],[2006.05,5.9],[2006.07,4.2],[2006.09,5.1],[2006.11,4.4],[2006.14,5.7],[2006.17,3.9],
  [2006.2,5.2],[2006.23,4.7],[2006.26,5.5],[2006.29,4.0],[2006.32,5.0],[2006.35,4.5],[2006.38,5.6],[2006.44,4.8],
  [2006.47,3.6],[2006.5,5.3],[2006.53,4.3],[2006.56,5.8],[2006.62,4.9],[2006.65,4.1],[2006.68,5.4],[2006.74,4.6],
  [2006.77,3.8],[2006.8,5.9],[2006.83,5.0],[2006.86,4.3],[2006.89,6.1],[2006.92,4.8],[2006.95,5.4],[2006.98,3.1],
  [2006.08,3.39],[2006.41,0.94],[2006.49,1.73],[2006.59,1.21],[2006.48,2.92],[2006.57,2.76],[2006.71,2.6],[2006.61,3.47],
  [2006.41,3.24],[2006.97,2.57],
  [2007.01,5.1],[2007.04,4.4],[2007.07,5.6],[2007.1,4.0],[2007.13,2.6],[2007.16,5.3],[2007.19,4.7],[2007.21,6.35],
  [2007.24,5.0],[2007.27,3.7],[2007.3,5.5],[2007.33,4.3],[2007.36,5.8],[2007.39,4.9],[2007.42,3.4],[2007.45,5.2],
  [2007.48,4.6],[2007.51,5.7],[2007.54,4.1],[2007.58,6.11],[2007.6,5.0],[2007.63,4.5],[2007.66,5.4],[2007.69,3.9],
  [2007.72,5.9],[2007.75,6.08],[2007.77,4.8],[2007.79,2.41],[2007.82,5.3],[2007.85,4.2],[2007.88,5.6],[2007.91,3.5],
  [2007.94,2.41],[2007.95,1.26],[2007.97,4.9],
  [2008.0,5.5],[2008.03,4.1],[2008.05,0.19],[2008.07,5.0],[2008.1,3.8],[2008.13,5.7],[2008.16,4.5],[2008.19,5.2],
  [2008.22,3.4],[2008.25,3.08],[2008.27,4.8],[2008.3,5.6],[2008.33,4.3],[2008.36,5.1],[2008.39,4.7],[2008.42,5.8],
  [2008.45,4.0],[2008.48,5.3],[2008.51,3.6],[2008.54,4.9],[2008.57,5.5],[2008.59,6.2],[2008.62,4.4],[2008.65,5.0],
  [2008.68,4.1],[2008.71,5.7],[2008.74,4.6],[2008.77,2.6],[2008.8,5.2],[2008.83,3.9],[2008.86,4.8],[2008.89,5.9],
  [2008.92,4.3],[2008.95,5.4],[2008.98,2.6],
  [2009.01,4.7],[2009.04,5.3],[2009.07,4.0],[2009.1,5.6],[2009.13,4.4],[2009.16,5.0],[2009.19,3.7],[2009.22,5.9],
  [2009.25,4.6],[2009.26,1.66],[2009.28,5.2],[2009.3,0.36],[2009.3,3.0],[2009.32,4.2],[2009.35,5.5],[2009.38,4.8],
  [2009.41,3.8],[2009.44,5.1],[2009.47,4.3],
  [2009.49,2.15],[2009.49,1.75],[2009.49,1.55],[2009.49,1.3],[2009.49,1.15],[2009.49,-0.2],[2009.49,-0.35],[2009.49,-0.6],
  [2009.49,-0.8],[2009.49,-1.0],[2009.49,-1.15],[2009.49,-1.6],[2009.51,2.76],[2009.49,3.2],[2009.52,3.1],
  [2009.53,5.7],[2009.56,4.5],[2009.59,5.0],[2009.62,2.05],[2009.63,4.1],[2009.65,2.6],[2009.66,5.4],[2009.69,6.0],
  [2009.72,4.7],[2009.75,5.2],[2009.78,3.9],[2009.81,5.6],[2009.84,4.4],[2009.87,5.0],[2009.91,3.16],[2009.93,5.8],
  [2009.96,4.6],
  [2010.0,5.3],[2010.02,5.95],[2010.05,2.84],[2010.06,4.2],[2010.08,3.24],[2010.1,5.6],[2010.13,4.7],[2010.17,2.84],
  [2010.19,5.1],[2010.22,4.0],[2010.25,2.45],[2010.28,3.47],[2010.3,5.5],[2010.33,4.5],[2010.36,5.9],[2010.39,4.2],
  [2010.42,5.2],[2010.45,3.6],[2010.48,4.8],[2010.51,5.7],[2010.54,4.4],[2010.57,5.0],[2010.6,3.9],[2010.63,5.4],
  [2010.66,4.6],[2010.69,6.0],[2010.72,4.1],[2010.74,1.27],[2010.74,2.37],[2010.76,5.3],[2010.8,2.69],[2010.82,4.7],
  [2010.85,5.6],[2010.88,3.8],[2010.91,5.1],[2010.94,4.3],[2010.97,5.8],
  [2011.0,4.6],[2011.03,5.2],[2011.06,3.5],[2011.09,5.5],[2011.12,4.4],[2011.15,6.1],[2011.18,4.9],[2011.21,5.3],
  [2011.24,3.9],[2011.28,2.29],[2011.3,5.0],[2011.33,4.2],[2011.36,5.7],[2011.39,4.6],[2011.42,3.3],[2011.45,5.4],
  [2011.48,0.43],[2011.48,2.61],[2011.5,4.8],[2011.53,5.9],[2011.56,4.3],[2011.6,2.69],[2011.62,5.1],[2011.65,4.0],
  [2011.68,5.6],[2011.71,4.5],[2011.74,3.7],[2011.77,0.4],[2011.79,5.2],[2011.83,2.92],[2011.85,4.7],[2011.88,5.5],
  [2011.91,4.1],[2011.94,5.9],[2011.97,4.4],
  [2012.0,-0.04],[2012.01,5.0],[2012.04,4.3],[2012.07,5.7],[2012.1,3.8],[2012.13,5.2],[2012.16,4.6],[2012.2,2.32],
  [2012.22,5.5],[2012.25,4.0],[2012.28,5.8],[2012.31,4.5],[2012.34,5.1],[2012.37,3.6],[2012.4,4.9],[2012.43,2.18],
  [2012.46,5.4],[2012.49,4.2],[2012.52,5.9],[2012.55,4.7],[2012.58,3.4],[2012.61,5.3],[2012.64,4.4],[2012.67,5.6],
  [2012.7,4.0],[2012.73,5.0],[2012.76,4.6],[2012.79,6.3],[2012.83,2.32],[2012.85,5.5],[2012.88,3.9],[2012.9,4.8],
  [2012.93,2.4],[2012.94,1.95],[2012.94,1.3],[2012.93,0.8],[2012.93,0.6],[2012.95,0.32],[2012.94,0.05],[2012.94,-0.2],
  [2012.95,-0.86],[2012.96,3.0],[2012.97,4.3],[2012.99,5.4],
  [2013.02,4.1],[2013.05,5.6],[2013.06,2.61],[2013.08,4.4],[2013.11,3.6],[2013.14,5.1],[2013.17,4.7],[2013.2,5.9],
  [2013.23,3.3],[2013.26,2.06],[2013.28,5.2],[2013.31,4.5],[2013.34,5.5],[2013.37,4.0],[2013.4,5.0],[2013.43,3.7],
  [2013.46,5.7],[2013.49,2.53],[2013.51,4.6],[2013.54,5.3],[2013.57,4.2],[2013.6,6.0],[2013.63,4.8],[2013.66,3.5],
  [2013.69,5.4],[2013.72,4.4],[2013.75,1.35],[2013.77,5.1],[2013.8,4.0],[2013.83,5.8],[2013.87,2.53],[2013.89,4.7],
  [2013.92,5.2],[2013.95,3.9],[2013.98,5.5],
  [2014.01,4.5],[2014.04,5.0],[2014.07,3.8],[2014.08,2.76],[2014.09,1.98],[2014.09,1.58],[2014.12,5.6],[2014.15,4.3],
  [2014.18,5.2],[2014.21,3.6],[2014.24,4.9],[2014.27,5.8],[2014.3,4.1],[2014.33,5.4],[2014.36,4.6],[2014.39,3.4],
  [2014.42,5.1],[2014.46,2.61],[2014.48,4.4],[2014.51,5.7],[2014.55,-0.62],[2014.57,4.8],[2014.6,3.9],[2014.63,5.3],
  [2014.66,4.2],[2014.69,6.1],[2014.72,4.7],[2014.75,5.5],[2014.78,3.7],[2014.81,5.0],[2014.84,4.3],[2014.87,5.9],
  [2014.9,4.6],[2014.93,3.5],[2014.96,5.2],[2014.99,4.0],
  [2015.02,5.6],[2015.05,4.4],[2015.08,5.1],[2015.11,3.9],[2015.14,4.7],[2015.17,5.8],[2015.2,4.2],[2015.23,5.3],
  [2015.26,3.6],[2015.29,4.9],[2015.33,0.0],[2015.35,5.5],[2015.37,2.37],[2015.39,4.1],[2015.42,5.0],[2015.45,3.8],
  [2015.49,2.29],[2015.5,5.7],[2015.54,1.19],[2015.55,4.5],[2015.58,-0.94],[2015.6,5.2],[2015.63,4.0],[2015.66,5.9],
  [2015.69,4.6],[2015.72,3.4],[2015.75,5.4],[2015.78,4.3],[2015.81,5.0],[2015.84,3.7],[2015.86,-0.26],[2015.86,3.24],
  [2015.89,2.84],[2015.91,1.66],[2015.92,5.6],[2015.95,4.4],[2015.98,6.0],
  [2016.01,4.8],[2016.04,5.3],[2016.07,4.1],[2016.11,2.61],[2016.11,-2.78],[2016.13,5.6],[2016.16,4.5],[2016.19,5.0],
  [2016.22,3.8],[2016.25,5.4],[2016.28,0.28],[2016.3,2.45],[2016.31,2.06],[2016.33,4.3],[2016.36,5.7],[2016.39,4.7],
  [2016.42,3.5],[2016.45,5.1],[2016.48,2.45],[2016.5,4.2],[2016.53,5.5],[2016.56,4.6],[2016.59,3.9],[2016.61,0.84],
  [2016.63,5.2],[2016.66,4.4],[2016.69,5.8],[2016.72,4.0],[2016.75,5.3],[2016.78,3.6],[2016.81,4.9],[2016.84,6.1],
  [2016.85,-0.54],[2016.87,4.5],[2016.9,5.0],[2016.93,3.8],[2016.96,5.5],[2016.97,-1.88],[2016.99,4.2],
  [2017.02,5.7],[2017.05,4.6],[2017.08,5.1],[2017.11,0.48],[2017.13,3.9],[2017.16,5.4],[2017.19,4.3],[2017.22,5.9],
  [2017.25,4.8],[2017.28,3.5],[2017.31,5.2],[2017.34,4.5],[2017.37,5.6],[2017.41,-2.43],[2017.42,4.0],[2017.45,5.0],
  [2017.48,4.4],[2017.51,5.8],[2017.55,2.8],[2017.56,4.7],[2017.59,5.3],[2017.62,3.7],[2017.65,0.53],[2017.67,5.5],
  [2017.7,4.2],[2017.74,2.53],[2017.75,2.76],[2017.75,-1.76],[2017.77,5.0],[2017.8,4.6],[2017.83,5.7],[2017.86,3.9],
  [2017.88,-0.86],[2017.9,5.2],[2017.93,4.3],[2017.94,-1.8],[2017.96,5.5],[2017.99,4.8],
  [2018.02,5.9],[2018.05,4.5],[2018.08,1.9],[2018.08,1.66],[2018.08,0.95],[2018.09,5.2],[2018.11,-1.65],[2018.12,4.0],
  [2018.15,5.6],[2018.18,4.7],[2018.21,3.6],[2018.24,5.3],[2018.25,1.79],[2018.27,4.4],[2018.3,5.8],[2018.31,-1.25],
  [2018.33,4.9],[2018.36,3.9],[2018.39,5.4],[2018.42,4.2],[2018.45,5.1],[2018.48,3.5],[2018.51,4.8],[2018.54,5.7],
  [2018.57,4.3],[2018.6,5.0],[2018.63,3.8],[2018.66,5.5],[2018.69,4.6],[2018.72,3.2],[2018.75,5.2],[2018.78,4.1],
  [2018.81,5.6],[2018.84,4.7],[2018.87,5.3],[2018.89,3.7]
];
const bandC = [
  [2006.02,[4.6,5.1,5.5]],[2006.07,[4.4,4.9,5.6]],[2006.12,[4.8,5.3,5.7]],[2006.17,[4.5,5.0,5.4]],[2006.22,[4.7,5.2,5.8]],
  [2006.27,[4.3,4.9,5.3]],[2006.32,[4.6,5.0,5.6]],[2006.37,[4.9,5.4,5.7]],[2006.42,[4.4,4.8,5.2]],[2006.47,[4.7,5.1,5.5]],
  [2006.52,[4.5,5.3,5.6]],[2006.57,[4.2,4.9,5.4]],[2006.62,[4.8,5.0,5.5]],[2006.67,[4.6,5.2,5.9]],[2006.72,[4.4,4.7,5.3]],
  [2006.77,[4.9,5.1,5.6]],[2006.82,[4.3,5.0,5.4]],[2006.87,[4.7,5.3,5.8]],[2006.92,[4.5,4.8,5.2]],[2006.97,[4.6,5.2,5.5]],
  [2007.02,[4.7,5.1,5.5]],[2007.07,[4.5,5.3,5.6]],[2007.12,[4.2,4.9,5.4]],[2007.17,[4.8,5.0,5.5]],[2007.22,[4.6,5.2,5.9]],
  [2007.27,[4.4,4.7,5.3]],[2007.32,[4.9,5.1,5.6]],[2007.37,[4.3,5.0,5.4]],[2007.42,[4.7,5.3,5.8]],[2007.47,[4.5,4.8,5.2]],
  [2007.52,[4.6,5.2,5.5]],[2007.57,[4.6,5.1,5.5]],[2007.62,[4.4,4.9,5.6]],[2007.67,[4.8,5.3,5.7]],[2007.72,[4.5,5.0,5.4]],
  [2007.77,[4.7,5.2,5.8]],[2007.82,[4.3,4.9,5.3]],[2007.87,[4.6,5.0,5.6]],[2007.92,[4.9,5.4,5.7]],[2007.97,[4.4,4.8,5.2]],
  [2008.02,[4.5,5.0,5.4]],[2008.07,[4.7,5.2,5.8]],[2008.12,[4.3,4.9,5.3]],[2008.17,[4.6,5.0,5.6]],[2008.22,[4.9,5.4,5.7]],
  [2008.27,[4.4,4.8,5.2]],[2008.32,[4.7,5.1,5.5]],[2008.37,[4.5,5.3,5.6]],[2008.42,[4.2,4.9,5.4]],[2008.47,[4.8,5.0,5.5]],
  [2008.52,[4.6,5.2,5.9]],[2008.57,[4.4,4.7,5.3]],[2008.62,[4.9,5.1,5.6]],[2008.67,[4.3,5.0,5.4]],[2008.72,[4.7,5.3,5.8]],
  [2008.77,[4.5,4.8,5.2]],[2008.82,[4.6,5.2,5.5]],[2008.87,[4.6,5.1,5.5]],[2008.92,[4.4,4.9,5.6]],[2008.97,[4.8,5.3,5.7]],
  [2009.02,[4.4,4.7,5.3]],[2009.07,[4.9,5.1,5.6]],[2009.12,[4.3,5.0,5.4]],[2009.17,[4.7,5.3,5.8]],[2009.22,[4.5,4.8,5.2]],
  [2009.27,[4.6,5.2,5.5]],[2009.32,[4.6,5.1,5.5]],[2009.37,[4.4,4.9,5.6]],[2009.42,[4.8,5.3,5.7]],[2009.47,[4.5,5.0,5.4]],
  [2009.52,[4.7,5.2,5.8]],[2009.57,[4.3,4.9,5.3]],[2009.62,[4.6,5.0,5.6]],[2009.67,[4.9,5.4,5.7]],[2009.72,[4.4,4.8,5.2]],
  [2009.77,[4.7,5.1,5.5]],[2009.82,[4.5,5.3,5.6]],[2009.87,[4.2,4.9,5.4]],[2009.92,[4.8,5.0,5.5]],[2009.97,[4.6,5.2,5.9]],
  [2010.02,[4.6,5.0,5.6]],[2010.07,[4.9,5.4,5.7]],[2010.12,[4.4,4.8,5.2]],[2010.17,[4.7,5.1,5.5]],[2010.22,[4.5,5.3,5.6]],
  [2010.27,[4.2,4.9,5.4]],[2010.32,[4.8,5.0,5.5]],[2010.37,[4.6,5.2,5.9]],[2010.42,[4.4,4.7,5.3]],[2010.47,[4.9,5.1,5.6]],
  [2010.52,[4.3,5.0,5.4]],[2010.57,[4.7,5.3,5.8]],[2010.62,[4.5,4.8,5.2]],[2010.67,[4.6,5.2,5.5]],[2010.72,[4.6,5.1,5.5]],
  [2010.77,[4.4,4.9,5.6]],[2010.82,[4.8,5.3,5.7]],[2010.87,[4.5,5.0,5.4]],[2010.92,[4.7,5.2,5.8]],[2010.97,[4.3,4.9,5.3]],
  [2011.02,[4.7,5.3,5.8]],[2011.07,[4.5,4.8,5.2]],[2011.12,[4.6,5.2,5.5]],[2011.17,[4.6,5.1,5.5]],[2011.22,[4.4,4.9,5.6]],
  [2011.27,[4.8,5.3,5.7]],[2011.32,[4.5,5.0,5.4]],[2011.37,[4.7,5.2,5.8]],[2011.42,[4.3,4.9,5.3]],[2011.47,[4.6,5.0,5.6]],
  [2011.52,[4.9,5.4,5.7]],[2011.57,[4.4,4.8,5.2]],[2011.62,[4.7,5.1,5.5]],[2011.67,[4.5,5.3,5.6]],[2011.72,[4.2,4.9,5.4]],
  [2011.77,[4.8,5.0,5.5]],[2011.82,[4.6,5.2,5.9]],[2011.87,[4.4,4.7,5.3]],[2011.92,[4.9,5.1,5.6]],[2011.97,[4.3,5.0,5.4]],
  [2012.02,[4.2,4.9,5.4]],[2012.07,[4.8,5.0,5.5]],[2012.12,[4.6,5.2,5.9]],[2012.17,[4.4,4.7,5.3]],[2012.22,[4.9,5.1,5.6]],
  [2012.27,[4.3,5.0,5.4]],[2012.32,[4.7,5.3,5.8]],[2012.37,[4.5,4.8,5.2]],[2012.42,[4.6,5.2,5.5]],[2012.47,[4.6,5.1,5.5]],
  [2012.52,[4.4,4.9,5.6]],[2012.57,[4.8,5.3,5.7]],[2012.62,[4.5,5.0,5.4]],[2012.67,[4.7,5.2,5.8]],[2012.72,[4.3,4.9,5.3]],
  [2012.77,[4.6,5.0,5.6]],[2012.82,[4.9,5.4,5.7]],[2012.87,[4.4,4.8,5.2]],[2012.92,[4.7,5.1,5.5]],[2012.97,[4.5,5.3,5.6]],
  [2013.02,[4.4,4.9,5.6]],[2013.07,[4.8,5.3,5.7]],[2013.12,[4.5,5.0,5.4]],[2013.17,[4.7,5.2,5.8]],[2013.22,[4.3,4.9,5.3]],
  [2013.27,[4.6,5.0,5.6]],[2013.32,[4.9,5.4,5.7]],[2013.37,[4.4,4.8,5.2]],[2013.42,[4.7,5.1,5.5]],[2013.47,[4.5,5.3,5.6]],
  [2013.52,[4.2,4.9,5.4]],[2013.57,[4.8,5.0,5.5]],[2013.62,[4.6,5.2,5.9]],[2013.67,[4.4,4.7,5.3]],[2013.72,[4.9,5.1,5.6]],
  [2013.77,[4.3,5.0,5.4]],[2013.82,[4.7,5.3,5.8]],[2013.87,[4.5,4.8,5.2]],[2013.92,[4.6,5.2,5.5]],[2013.97,[4.6,5.1,5.5]],
  [2014.02,[4.4,4.8,5.2]],[2014.07,[4.7,5.1,5.5]],[2014.12,[4.5,5.3,5.6]],[2014.17,[4.2,4.9,5.4]],[2014.22,[4.8,5.0,5.5]],
  [2014.27,[4.6,5.2,5.9]],[2014.32,[4.4,4.7,5.3]],[2014.37,[4.9,5.1,5.6]],[2014.42,[4.3,5.0,5.4]],[2014.47,[4.7,5.3,5.8]],
  [2014.52,[4.5,4.8,5.2]],[2014.57,[4.6,5.2,5.5]],[2014.62,[4.6,5.1,5.5]],[2014.67,[4.4,4.9,5.6]],[2014.72,[4.8,5.3,5.7]],
  [2014.77,[4.5,5.0,5.4]],[2014.82,[4.7,5.2,5.8]],[2014.87,[4.3,4.9,5.3]],[2014.92,[4.6,5.0,5.6]],[2014.97,[4.9,5.4,5.7]],
  [2015.02,[4.9,5.1,5.6]],[2015.07,[4.3,5.0,5.4]],[2015.12,[4.7,5.3,5.8]],[2015.17,[4.5,4.8,5.2]],[2015.22,[4.6,5.2,5.5]],
  [2015.27,[4.6,5.1,5.5]],[2015.32,[4.4,4.9,5.6]],[2015.37,[4.8,5.3,5.7]],[2015.42,[4.5,5.0,5.4]],[2015.47,[4.7,5.2,5.8]],
  [2015.52,[4.3,4.9,5.3]],[2015.57,[4.6,5.0,5.6]],[2015.62,[4.9,5.4,5.7]],[2015.67,[4.4,4.8,5.2]],[2015.72,[4.7,5.1,5.5]],
  [2015.77,[4.5,5.3,5.6]],[2015.82,[4.2,4.9,5.4]],[2015.87,[4.8,5.0,5.5]],[2015.92,[4.6,5.2,5.9]],[2015.97,[4.4,4.7,5.3]],
  [2016.02,[4.7,5.2,5.8]],[2016.07,[4.3,4.9,5.3]],[2016.12,[4.6,5.0,5.6]],[2016.17,[4.9,5.4,5.7]],[2016.22,[4.4,4.8,5.2]],
  [2016.27,[4.7,5.1,5.5]],[2016.32,[4.5,5.3,5.6]],[2016.37,[4.2,4.9,5.4]],[2016.42,[4.8,5.0,5.5]],[2016.47,[4.6,5.2,5.9]],
  [2016.52,[4.4,4.7,5.3]],[2016.57,[4.9,5.1,5.6]],[2016.62,[4.3,5.0,5.4]],[2016.67,[4.7,5.3,5.8]],[2016.72,[4.5,4.8,5.2]],
  [2016.77,[4.6,5.2,5.5]],[2016.82,[4.6,5.1,5.5]],[2016.87,[4.4,4.9,5.6]],[2016.92,[4.8,5.3,5.7]],[2016.97,[4.5,5.0,5.4]],
  [2017.02,[4.8,5.0,5.5]],[2017.07,[4.6,5.2,5.9]],[2017.12,[4.4,4.7,5.3]],[2017.17,[4.9,5.1,5.6]],[2017.22,[4.3,5.0,5.4]],
  [2017.27,[4.7,5.3,5.8]],[2017.32,[4.5,4.8,5.2]],[2017.37,[4.6,5.2,5.5]],[2017.42,[4.6,5.1,5.5]],[2017.47,[4.4,4.9,5.6]],
  [2017.52,[4.8,5.3,5.7]],[2017.57,[4.5,5.0,5.4]],[2017.62,[4.7,5.2,5.8]],[2017.67,[4.3,4.9,5.3]],[2017.72,[4.6,5.0,5.6]],
  [2017.77,[4.9,5.4,5.7]],[2017.82,[4.4,4.8,5.2]],[2017.87,[4.7,5.1,5.5]],[2017.92,[4.5,5.3,5.6]],[2017.97,[4.2,4.9,5.4]],
  [2018.02,[4.9,5.4,5.7]],[2018.07,[4.4,4.8,5.2]],[2018.12,[4.7,5.1,5.5]],[2018.17,[4.5,5.3,5.6]],[2018.22,[4.2,4.9,5.4]],
  [2018.27,[4.8,5.0,5.5]],[2018.32,[4.6,5.2,5.9]],[2018.37,[4.4,4.7,5.3]],[2018.42,[4.9,5.1,5.6]],[2018.47,[4.3,5.0,5.4]],
  [2018.52,[4.7,5.3,5.8]],[2018.57,[4.5,4.8,5.2]],[2018.62,[4.6,5.2,5.5]],[2018.67,[4.6,5.1,5.5]],[2018.72,[4.4,4.9,5.6]],
  [2018.77,[4.8,5.3,5.7]],[2018.82,[4.5,5.0,5.4]],[2018.87,[4.7,5.2,5.8]]
];
// swarm after the 2018/11/30 event
const cloudC = [
  [2018.905,[-2.7,-2.3,-1.9,-1.4,-0.9,-0.4]],[2018.91,[-2.6,-2.1,-1.6,-1.1,-0.6,0.0,0.6]],
  [2018.915,[-2.5,-2.0,-1.5,-0.8,-0.2,0.4,1.1]],[2018.92,[-2.4,-1.8,-1.2,-0.5,0.2,0.9,1.6,2.3]],
  [2018.925,[-2.2,-1.7,-1.0,-0.3,0.5,1.3,2.0,2.8]],[2018.93,[-2.0,-1.3,-0.6,0.1,0.8,1.5,2.5,3.2]],
  [2018.935,[-1.6,-0.9,-0.1,0.7,1.2,1.9,2.7,3.5]],[2018.94,[-1.2,-0.4,0.3,1.0,1.7,2.4,3.0,3.8]],
  [2018.95,[-0.8,0.0,0.9,1.6,2.2,2.9,3.6,4.2]],[2018.96,[0.4,1.2,1.9,2.6,3.3,4.0]],
  [2018.97,[-0.2,0.7,1.4,2.1,2.8,3.5,4.3]],[2018.98,[0.9,1.7,2.4,3.1,3.7,4.5]],
  [2018.99,[0.2,1.1,2.0,2.7,3.4,4.1]],[2019.0,[1.4,2.2,2.9,3.6,4.4,4.9]],
  [2019.01,[0.6,1.6,2.5,3.2,3.9,4.6]],[2019.02,[1.2,2.0,2.8,3.5,4.2]],
  [2019.03,[1.8,2.6,3.3,4.0,4.7]],[2019.04,[0.8,2.3,3.0,3.7,4.4,5.0]],
  [2019.05,[1.5,2.7,3.4,4.1,4.8]],[2019.06,[2.1,2.9,3.6,4.3,5.2]],
  [2019.07,[1.0,2.4,3.2,3.9,4.6]],[2019.08,[1.9,2.8,3.5,4.2,4.9,5.4]],
  [2019.09,[2.5,3.1,3.8,4.5,5.0]],[2019.1,[1.3,2.6,3.4,4.0,4.7]],
  [2019.11,[2.2,3.0,3.7,4.4,5.1]],[2019.12,[1.7,3.3,3.9,4.6,5.3]],
  [2019.13,[2.4,3.1,4.1,4.8,5.5]],[2019.14,[2.0,2.8,3.6,4.3,5.0]],
  [2019.15,[2.6,3.4,4.2,4.9,5.6]],[2019.16,[1.6,3.0,3.8,4.5,5.2]],
  [2019.17,[2.3,3.5,4.0,4.7,5.4]],[2019.18,[2.9,3.7,4.4,5.1,5.8]],
  [2019.19,[1.4,3.2,4.1,4.6,5.3]],[2019.2,[2.5,3.6,4.3,5.0,5.7]],
  [2019.22,[2.1,3.3,4.0,4.8,5.5]],[2019.24,[2.7,3.8,4.5,5.2,5.9]],
  [2019.26,[1.9,3.5,4.2,4.9,5.4]],[2019.28,[3.0,3.9,4.6,5.3,5.8]],
  [2019.3,[2.4,3.7,4.4,5.1,5.6]],[2019.32,[3.2,4.0,4.7,5.4]],
  [2019.34,[0.95,3.4,4.3,5.0,5.7]],[2019.35,[0.1]],[2019.36,[3.6,4.2,4.8,5.5]],
  [2019.38,[3.3,4.1,4.9,5.6]],[2019.4,[3.8,4.5,5.2,5.9]],
  [2019.425,[5.7,5.1,4.4,3.9]],[2019.45,[5.3,4.7,4.2]],[2019.475,[5.9,4.9,4.5,3.6]],
  [2019.5,[5.2,4.6,3.8,1.0]],[2019.525,[5.6,5.0,4.3]],[2019.55,[5.4,4.8,4.0,3.4]],
  [2019.575,[5.8,5.2,4.6]],[2019.6,[5.1,4.4,3.7]],[2019.625,[5.7,4.9,4.1,3.5]],
  [2019.65,[5.3,4.5,1.73]],[2019.675,[5.5,5.0,4.3,3.8]],[2019.7,[5.9,5.3,4.7]],
  [2019.725,[5.2,4.6,4.0,3.3]],[2019.75,[5.6,4.8,4.4]],[2019.775,[5.4,5.1,4.2,3.6]],
  [2019.8,[5.8,4.9,4.5]],[2019.825,[5.1,4.7,3.9]],[2019.85,[5.5,5.0,4.3,3.7]],
  [2019.875,[5.3,4.6,4.1]],[2019.9,[5.7,5.2,4.5,-1.0]],[2019.925,[5.0,4.8,4.2,3.5]],
  [2019.95,[5.6,5.1,4.4]],[2019.975,[5.4,4.7,1.58,-2.77]],[2020.0,[5.9,5.0,4.3,3.8]],
  [2020.025,[5.2,4.6,4.0]],[2020.05,[5.6,5.3,4.5,3.6]],[2020.075,[5.4,4.8,4.2]],
  [2020.1,[5.8,5.0,4.6,3.9]],[2020.125,[5.1,4.7,4.4]],[2020.15,[6.0,5.5,4.9,4.1]],
  [2020.175,[5.3,4.6,3.7]],[2020.2,[5.7,5.1,4.5,4.0]],[2020.225,[5.5,4.9,4.2]],
  [2020.25,[5.2,4.7,4.4,3.6]],[2020.275,[5.8,5.0,4.6]],[2020.3,[5.4,4.8,4.1,3.5]],
  [2020.325,[5.6,5.2,4.3]],[2020.35,[5.1,4.7,3.9]],[2020.375,[5.7,5.0,4.5,3.8]],
  [2020.4,[5.3,4.9,4.2]],[2020.425,[5.9,5.1,4.6,4.0]],[2020.45,[5.4,4.8,4.3]],
  [2020.475,[5.6,5.2,4.4,3.5]],[2020.5,[5.2,4.7,4.1]],[2020.525,[5.8,5.0,4.5,3.7]],
  [2020.55,[5.5,4.9,4.2]],[2020.575,[5.3,4.6,4.0,3.4]],[2020.6,[5.7,5.1,4.4]],
  [2020.62,[5.4,5.0,4.3]]
];

const FONT = "'Liberation Sans', Arial, sans-serif";
const GRID = '#9a9a9a';

// pale yellow band for the last part of the record
const shadePlugin = {
  id: 'shade',
  beforeDraw(chart) {
    const { ctx, chartArea: a, scales: { x } } = chart;
    const left = x.getPixelForValue(shadeStart);
    ctx.save();
    ctx.fillStyle = '#fdf6da';
    ctx.fillRect(left, a.top, a.right - left, a.bottom - a.top);
    ctx.restore();
  }
};

// [time, [v1, v2, ...]] -> [[time, v1], [time, v2], ...]
function unpack(cols) {
  return cols.flatMap(([t, vals]) => vals.map(v => [t, v]));
}

function makePanel(idx, pts, extra, line) {
  const ctx = document.getElementById('panel' + idx).getContext('2d');
  return new Chart(ctx, {
    type: 'scatter',
    data: {
      datasets: [
        { data: line, showLine: true, borderColor: '#000', borderWidth: 3.5, pointRadius: 0, order: 0 },
        { data: pts.concat(extra), backgroundColor: '#1a7fc2', pointRadius: 1.5, pointBorderWidth: 0, order: 1 }
      ]
    },
    options: {
      responsive: false,
      animation: false,
      events: [],
      layout: { padding: { left: 0, top: 0, right: 35, bottom: 0 } },
      plugins: { legend: { display: false }, tooltip: { enabled: false } },
      scales: {
        x: {
          type: 'linear', position: 'top', min: yearTicks[0], max: yearTicks[yearTicks.length - 1],
          afterBuildTicks: s => { s.ticks = yearTicks.map(v => ({ value: v })); },
          afterFit: s => { s.height = 35; },
          ticks: { callback: v => (v === 2021 ? '' : String(v)), font: { family: FONT, size: 14 }, color: '#111',
                   padding: 5, maxRotation: 0, autoSkip: false },
          grid: { color: GRID, lineWidth: 2, tickLength: 4 },
          border: { color: GRID, width: 2 }
        },
        y: {
          type: 'linear', min: etaTicks[0], max: etaTicks[etaTicks.length - 1],
          afterBuildTicks: s => { s.ticks = etaTicks.map(v => ({ value: v })); },
          afterFit: s => { s.width = 52; },
          ticks: { callback: v => (v === 7 ? '' : String(v)), font: { family: FONT, size: 14 }, color: '#111',
                   padding: 5, autoSkip: false },
          grid: { color: GRID, lineWidth: 2, tickLength: 4 },
          border: { color: GRID, width: 2 }
        }
      }
    },
    plugins: [shadePlugin]
  });
}

makePanel(0, ptsA, unpack(bandA), lineA);
makePanel(1, ptsB, unpack(cloudB), lineB);
makePanel(2, ptsC, unpack(bandC).concat(unpack(cloudC)), lineC);

// rotated event labels on the right
quakeMags.forEach((m, i) => {
  document.getElementById('q' + i).innerHTML = 'M<sub>W</sub>' + m + ' ' + quakeDates[i];
});
</script>
</body>
</html>
